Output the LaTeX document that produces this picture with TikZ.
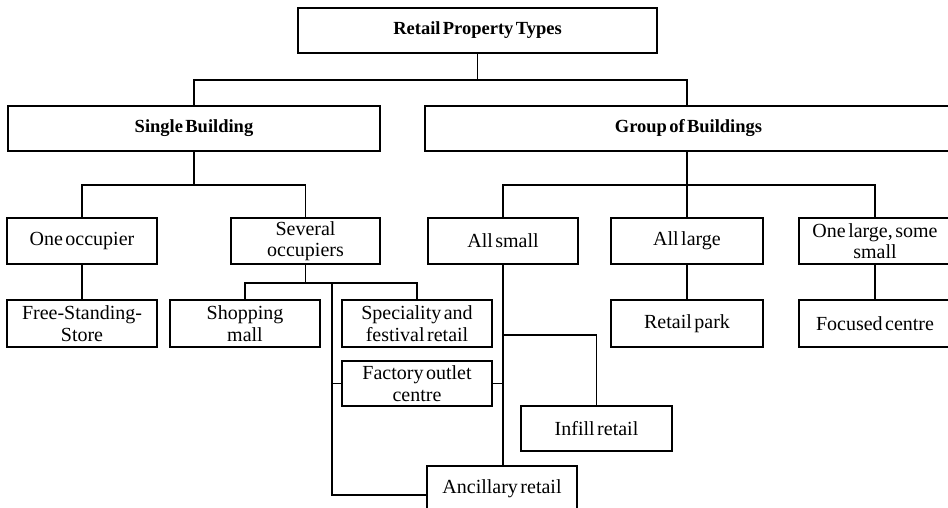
\documentclass[tikz,border=0pt]{standalone}
\usepackage{fontspec}
\setmainfont{Liberation Serif}[WordSpace=0.5]
\begin{document}
\begin{tikzpicture}[x=1pt,y=-1pt,
  box/.style={draw=black, line width=1.4pt, align=center, inner sep=0pt,
    font=\fontsize{20}{21.5}\selectfont},
  hbox/.style={box, font=\fontsize{18.5}{21}\selectfont\bfseries},
  conn/.style={draw=black, line width=1.4pt}]
\useasboundingbox (0,0) rectangle (948,507);
\clip (0,0) rectangle (948,507);
\fill[white] (0,0) rectangle (948,507);
% level 1-2
\node[hbox, minimum width=359pt, minimum height=45pt] (top) at (477.5,30.5) {Retail Property Types};
\node[hbox, minimum width=372pt, minimum height=45pt] (single) at (194,128.5) {Single Building};
\node[hbox, minimum width=527pt, minimum height=45pt] (group) at (688.5,128.5) {Group of Buildings};
% level 3
\node[box, minimum width=150pt, minimum height=46pt] (one) at (82,241) {One occupier};
\node[box, minimum width=149pt, minimum height=46pt] (several) at (305.5,241) {Several\\occupiers};
\node[box, minimum width=150pt, minimum height=46pt] (allsmall) at (503,241) {All small};
\node[box, minimum width=152pt, minimum height=46pt] (alllarge) at (687,241) {All large};
\node[box, minimum width=152pt, minimum height=46pt] (onelarge) at (875,241) {One large, some\\small};
% level 4
\node[box, minimum width=150pt, minimum height=47pt] (free) at (82,323.5) {Free-Standing-\\Store};
\node[box, minimum width=150pt, minimum height=47pt] (shop) at (245,323.5) {Shopping\\mall};
\node[box, minimum width=150pt, minimum height=47pt] (spec) at (417,323.5) {Speciality and\\festival retail};
\node[box, minimum width=152pt, minimum height=47pt] (park) at (687,323.5) {Retail park};
\node[box, minimum width=152pt, minimum height=47pt] (focus) at (875,323.5) {Focused centre};
\node[box, minimum width=150pt, minimum height=45pt] (factory) at (417,383.5) {Factory outlet\\centre};
\node[box, minimum width=151pt, minimum height=45pt] (infill) at (596.5,428.5) {Infill retail};
\node[box, minimum width=150pt, minimum height=46pt] (ancillary) at (502,489) {Ancillary retail};
% bus coordinates
\coordinate (b1) at (478,80);
\coordinate (b2) at (305,185);
\coordinate (b3) at (305,283);
\coordinate (c1) at (332,283);
\coordinate (c2) at (332,495);
\coordinate (c3) at (503,335);
% connectors
\draw[conn] (top.south) -- (top.south |- b1);
\draw[conn] (single.north) -- (single.north |- b1) -| (alllarge.north |- group.north);
\draw[conn] (single.south) -- (single.south |- b2);
\draw[conn] (one.north) -- (one.north |- b2) -| (several.north);
\draw[conn] (alllarge.north |- group.south) -- (alllarge.north);
\draw[conn] (allsmall.north) -- (allsmall.north |- b2) -| (onelarge.north);
\draw[conn] (one.south) -- (free.north);
\draw[conn] (alllarge.south) -- (park.north);
\draw[conn] (onelarge.south) -- (focus.north);
\draw[conn] (several.south) -- (several.south |- b3);
\draw[conn] (shop.north) -- (shop.north |- b3) -| (spec.north);
\draw[conn] (c1) -- (c2) -- (c2 -| ancillary.west);
\draw[conn] (factory.west) -- (factory.west -| c1);
\draw[conn] (factory.east) -- (factory.east -| allsmall.south);
\draw[conn] (allsmall.south) -- (allsmall.south |- ancillary.north);
\draw[conn] (c3) -| (infill.north);
\end{tikzpicture}
\end{document}
